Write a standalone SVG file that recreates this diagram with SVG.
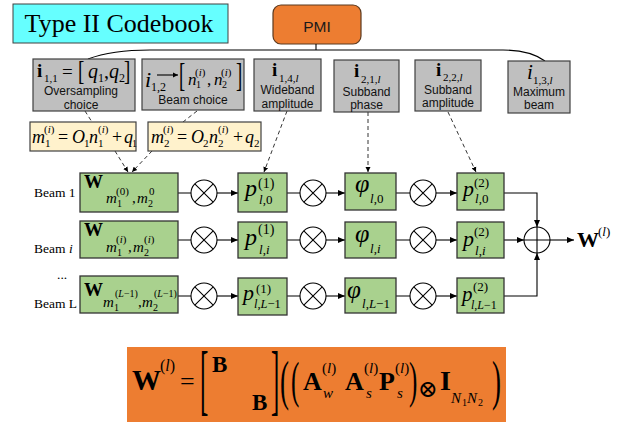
<svg xmlns="http://www.w3.org/2000/svg" width="629" height="424" viewBox="0 0 629 424">
<defs>
<style>
.m{font-family:"Liberation Serif","DejaVu Serif",serif;fill:#000}
.it{font-style:italic}
.bd{font-weight:bold}
.sn{font-family:"Liberation Sans","Open Sans",sans-serif;font-size:12px;fill:#111;text-anchor:middle}
.gray{fill:#BFBFBF;stroke:#404040;stroke-width:1.2}
.yel{fill:#FFF2CC;stroke:#404040;stroke-width:1.2}
.grn{fill:#A9D18E;stroke:#333;stroke-width:1.3}
.ln{fill:none;stroke:#000;stroke-width:1.1}
.dash{fill:none;stroke:#000;stroke-width:0.8;stroke-dasharray:4 3}
.op{fill:#fff;stroke:#000;stroke-width:1.1}
</style>
<marker id="ah" markerWidth="8" markerHeight="8" refX="7" refY="4" orient="auto" markerUnits="userSpaceOnUse"><path d="M0,1 L7,4 L0,7 z" fill="#000"/></marker>
<marker id="ahs" markerWidth="6" markerHeight="6" refX="5" refY="3" orient="auto" markerUnits="userSpaceOnUse"><path d="M0,0.5 L5,3 L0,5.5 z" fill="#000"/></marker>
</defs>
<rect width="629" height="424" fill="#fff"/>

<g id="title">
<rect x="13" y="4" width="215" height="39" fill="#66FFFF" stroke="#404040" stroke-width="1"/>
<text class="m" x="119" y="32" font-size="26" text-anchor="middle">Type II Codebook</text>
</g>

<g id="pmi">
<rect x="273" y="5" width="88" height="39" rx="8" fill="#ED7D31" stroke="#5a3a20" stroke-width="1.2"/>
<text x="317" y="32" font-size="15.5" text-anchor="middle" font-family="Liberation Sans, Open Sans, sans-serif" fill="#1a1a1a">PMI</text>
</g>

<g id="connectors">
<path class="ln" d="M316,44 V50"/>
<path class="ln" d="M88,59 Q112,50 150,50 H503 Q530,50 545,61"/>
<path class="dash" d="M85,111 L92,122"/>
<path class="dash" d="M115,151 L128,172" marker-end="url(#ahs)"/>
<path class="dash" d="M197,111 L183,122"/>
<path class="dash" d="M152,151 L132,172" marker-end="url(#ahs)"/>
<path class="dash" d="M287,111 L264,172" marker-end="url(#ahs)"/>
<path class="dash" d="M368,112 L368,172" marker-end="url(#ahs)"/>
<path class="dash" d="M448,112 L476,172" marker-end="url(#ahs)"/>
<path class="ln" d="M178,193 H191 M287,193 H300 M396,193 H410"/>
<path class="ln" d="M217,193 H238" marker-end="url(#ah)"/>
<path class="ln" d="M326,193 H345" marker-end="url(#ah)"/>
<path class="ln" d="M436,193 H457" marker-end="url(#ah)"/>
<path class="ln" d="M504,193 H537 V227" marker-end="url(#ah)"/>
<path class="ln" d="M178,240 H191 M287,240 H300 M396,240 H410"/>
<path class="ln" d="M217,240 H238" marker-end="url(#ah)"/>
<path class="ln" d="M326,240 H345" marker-end="url(#ah)"/>
<path class="ln" d="M436,240 H457" marker-end="url(#ah)"/>
<path class="ln" d="M504,240 H524" marker-end="url(#ah)"/>
<path class="ln" d="M178,296 H191 M287,296 H300 M396,296 H410"/>
<path class="ln" d="M217,296 H238" marker-end="url(#ah)"/>
<path class="ln" d="M326,296 H345" marker-end="url(#ah)"/>
<path class="ln" d="M436,296 H457" marker-end="url(#ah)"/>
<path class="ln" d="M504,296 H537 V253" marker-end="url(#ah)"/>
<path class="ln" d="M550,240 H574" marker-end="url(#ah)"/>
</g>

<g id="i11">
<rect class="gray" x="33" y="59" width="102" height="52"/>
<text class="m bd" x="37" y="77" font-size="19">i</text>
<text class="m" x="44" y="82" font-size="11">1,1</text>
<text class="m" x="62" y="78" font-size="19">=</text>
<text class="m" transform="translate(78,80) scale(0.7,1)" font-size="27">[</text>
<text class="m it" x="88" y="78" font-size="20">q</text>
<text class="m" x="98" y="82" font-size="12">1</text>
<text class="m" x="104" y="78" font-size="20">,</text>
<text class="m it" x="109" y="78" font-size="20">q</text>
<text class="m" x="119" y="82" font-size="12">2</text>
<text class="m" transform="translate(124,80) scale(0.7,1)" font-size="27">]</text>
<text class="sn" x="81" y="95">Oversampling</text>
<text class="sn" x="81" y="108.5">choice</text>
</g>

<g id="i12">
<rect class="gray" x="142" y="59" width="102" height="51"/>
<text class="m it" x="145" y="87" font-size="22">i</text>
<text class="m" x="151" y="91" font-size="12">1,2</text>
<path class="ln" d="M157,75 H178" marker-end="url(#ahs)"/>
<text class="m" transform="translate(179,86) scale(0.55,1)" font-size="34">[</text>
<text class="m it" x="188" y="85" font-size="17">n</text>
<text class="m" x="196" y="88" font-size="10">1</text>
<text class="m" x="195" y="76" font-size="11">(<tspan class="it">i</tspan>)</text>
<text class="m" x="207" y="85" font-size="17">,</text>
<text class="m it" x="214" y="85" font-size="17">n</text>
<text class="m" x="222" y="88" font-size="10">2</text>
<text class="m" x="221" y="76" font-size="11">(<tspan class="it">i</tspan>)</text>
<text class="m" transform="translate(236,86) scale(0.55,1)" font-size="34">]</text>
<text class="sn" x="193" y="104">Beam choice</text>
</g>

<g id="i14">
<rect class="gray" x="254" y="59" width="67" height="52"/>
<text class="m bd" x="272" y="76" font-size="19">i</text>
<text class="m" x="279" y="82" font-size="11">1,4,<tspan class="it">l</tspan></text>
<text class="sn" x="287.5" y="94">Wideband</text>
<text class="sn" x="287.5" y="108">amplitude</text>
</g>

<g id="i21">
<rect class="gray" x="334" y="60" width="65" height="52"/>
<text class="m bd" x="354" y="77" font-size="19">i</text>
<text class="m" x="361" y="83" font-size="11">2,1,<tspan class="it">l</tspan></text>
<text class="sn" x="366.5" y="96">Subband</text>
<text class="sn" x="366.5" y="109">phase</text>
</g>

<g id="i22">
<rect class="gray" x="415" y="60" width="66" height="51"/>
<text class="m bd" x="436" y="76" font-size="19">i</text>
<text class="m" x="443" y="81" font-size="11">2,2,<tspan class="it">l</tspan></text>
<text class="sn" x="448" y="94">Subband</text>
<text class="sn" x="448" y="107">amplitude</text>
</g>

<g id="i13">
<rect class="gray" x="508" y="61" width="62" height="52"/>
<text class="m it" x="527" y="79" font-size="21">i</text>
<text class="m" x="533" y="84" font-size="11">1,3,<tspan class="it">l</tspan></text>
<text class="sn" x="539" y="96">Maximum</text>
<text class="sn" x="539" y="109">beam</text>
</g>

<g id="m1">
<rect class="yel" x="30" y="122" width="106" height="29"/>
<text class="m it" x="32" y="143" font-size="18">m</text>
<text class="m" x="45" y="147" font-size="11">1</text>
<text class="m" x="44" y="133" font-size="11">(<tspan class="it">i</tspan>)</text>
<text class="m" x="58" y="143" font-size="18">=</text>
<text class="m it" x="72" y="143" font-size="18">O</text>
<text class="m" x="84" y="147" font-size="11">1</text>
<text class="m it" x="89" y="143" font-size="18">n</text>
<text class="m" x="98" y="147" font-size="11">1</text>
<text class="m" x="98" y="133" font-size="11">(<tspan class="it">i</tspan>)</text>
<text class="m" x="112" y="143" font-size="18">+</text>
<text class="m it" x="124" y="143" font-size="18">q</text>
<text class="m" x="132" y="147" font-size="10">1</text>
</g>

<g id="m2">
<rect class="yel" x="148" y="122" width="113" height="29"/>
<text class="m it" x="151" y="143" font-size="18">m</text>
<text class="m" x="164" y="147" font-size="11">2</text>
<text class="m" x="163" y="133" font-size="11">(<tspan class="it">i</tspan>)</text>
<text class="m" x="177" y="143" font-size="18">=</text>
<text class="m it" x="191" y="143" font-size="18">O</text>
<text class="m" x="203" y="147" font-size="11">2</text>
<text class="m it" x="209" y="143" font-size="18">n</text>
<text class="m" x="218" y="147" font-size="11">2</text>
<text class="m" x="218" y="133" font-size="11">(<tspan class="it">i</tspan>)</text>
<text class="m" x="233" y="143" font-size="18">+</text>
<text class="m it" x="245" y="143" font-size="18">q</text>
<text class="m" x="254" y="147" font-size="11">2</text>
</g>

<g id="labels">
<text class="m" x="34" y="197" font-size="13.5">Beam 1</text>
<text class="m" x="34" y="253" font-size="13.5">Beam <tspan class="it">i</tspan></text>
<text class="m" x="57" y="279" font-size="13.5">...</text>
<text class="m" x="34" y="308" font-size="13.5">Beam L</text>
</g>

<g id="w0">
<rect class="grn" x="80" y="173" width="98" height="39"/>
<text class="m bd" x="84" y="188" font-size="19">W</text>
<text class="m it" x="106" y="203" font-size="15">m</text>
<text class="m" x="117" y="207" font-size="10">1</text>
<text class="m" x="116" y="195" font-size="11">(0)</text>
<text class="m" x="132" y="203" font-size="15">,</text>
<text class="m it" x="137" y="203" font-size="15">m</text>
<text class="m" x="148" y="207" font-size="10">2</text>
<text class="m" x="149" y="195" font-size="11">0</text>
</g>
<g id="wi">
<rect class="grn" x="80" y="221" width="98" height="37"/>
<text class="m bd" x="84" y="236" font-size="19">W</text>
<text class="m it" x="106" y="252" font-size="15">m</text>
<text class="m" x="117" y="256" font-size="10">1</text>
<text class="m" x="116" y="243" font-size="11">(<tspan class="it">i</tspan>)</text>
<text class="m" x="128" y="252" font-size="15">,</text>
<text class="m it" x="133" y="252" font-size="15">m</text>
<text class="m" x="144" y="256" font-size="10">2</text>
<text class="m" x="144" y="243" font-size="11">(<tspan class="it">i</tspan>)</text>
</g>
<g id="wL">
<rect class="grn" x="80" y="276" width="98" height="37"/>
<text class="m bd" x="84" y="296" font-size="19">W</text>
<text class="m it" x="103" y="307" font-size="15">m</text>
<text class="m" x="114" y="311" font-size="10">1</text>
<text class="m" x="115" y="297" font-size="10">(<tspan class="it">L</tspan>−1)</text>
<text class="m" x="138" y="307" font-size="15">,</text>
<text class="m it" x="142" y="307" font-size="15">m</text>
<text class="m" x="153" y="311" font-size="10">2</text>
<text class="m" x="154" y="297" font-size="10">(<tspan class="it">L</tspan>−1)</text>
</g>

<g id="mul">
<g id="x10"><circle class="op" cx="204" cy="193" r="13"/><path class="ln" d="M194.8,183.8 L213.2,202.2 M213.2,183.8 L194.8,202.2"/></g>
<g id="x20"><circle class="op" cx="313" cy="193" r="13"/><path class="ln" d="M303.8,183.8 L322.2,202.2 M322.2,183.8 L303.8,202.2"/></g>
<g id="x30"><circle class="op" cx="423" cy="193" r="13"/><path class="ln" d="M413.8,183.8 L432.2,202.2 M432.2,183.8 L413.8,202.2"/></g>
<g id="x1i"><circle class="op" cx="204" cy="240" r="13"/><path class="ln" d="M194.8,230.8 L213.2,249.2 M213.2,230.8 L194.8,249.2"/></g>
<g id="x2i"><circle class="op" cx="313" cy="240" r="13"/><path class="ln" d="M303.8,230.8 L322.2,249.2 M322.2,230.8 L303.8,249.2"/></g>
<g id="x3i"><circle class="op" cx="423" cy="240" r="13"/><path class="ln" d="M413.8,230.8 L432.2,249.2 M432.2,230.8 L413.8,249.2"/></g>
<g id="x1L"><circle class="op" cx="204" cy="296" r="13"/><path class="ln" d="M194.8,286.8 L213.2,305.2 M213.2,286.8 L194.8,305.2"/></g>
<g id="x2L"><circle class="op" cx="313" cy="296" r="13"/><path class="ln" d="M303.8,286.8 L322.2,305.2 M322.2,286.8 L303.8,305.2"/></g>
<g id="x3L"><circle class="op" cx="423" cy="296" r="13"/><path class="ln" d="M413.8,286.8 L432.2,305.2 M432.2,286.8 L413.8,305.2"/></g>
</g>

<g id="p10">
<rect class="grn" x="238" y="173" width="49" height="39"/>
<text class="m it" x="245" y="196" font-size="24">p</text>
<text class="m" x="258" y="188" font-size="14">(1)</text>
<text class="m" x="259" y="204" font-size="13"><tspan class="it">l</tspan>,0</text>
</g>
<g id="p1i">
<rect class="grn" x="238" y="222" width="49" height="36"/>
<text class="m it" x="245" y="245" font-size="24">p</text>
<text class="m" x="258" y="234" font-size="14">(1)</text>
<text class="m" x="259" y="254" font-size="13"><tspan class="it">l</tspan>,<tspan class="it">i</tspan></text>
</g>
<g id="p1L">
<rect class="grn" x="238" y="278" width="49" height="37"/>
<text class="m it" x="243" y="300" font-size="22">p</text>
<text class="m" x="256" y="293" font-size="13">(1)</text>
<text class="m" x="254" y="308" font-size="12.5"><tspan class="it">l</tspan>,<tspan class="it">L</tspan>−1</text>
</g>

<g id="ph0">
<rect class="grn" x="345" y="173" width="51" height="37"/>
<text class="m it" x="355" y="192" font-size="26">φ</text>
<text class="m" x="370" y="203" font-size="13"><tspan class="it">l</tspan>,0</text>
</g>
<g id="phi">
<rect class="grn" x="345" y="222" width="51" height="36"/>
<text class="m it" x="355" y="242" font-size="26">φ</text>
<text class="m" x="370" y="253" font-size="13"><tspan class="it">l</tspan>,<tspan class="it">i</tspan></text>
</g>
<g id="phL">
<rect class="grn" x="345" y="278" width="51" height="35"/>
<text class="m it" x="347" y="298" font-size="25">φ</text>
<text class="m" x="362" y="308" font-size="13"><tspan class="it">l</tspan>,<tspan class="it">L</tspan>−1</text>
</g>

<g id="p20">
<rect class="grn" x="457" y="173" width="47" height="37"/>
<text class="m it" x="463" y="196" font-size="22">p</text>
<text class="m" x="474" y="187" font-size="13">(2)</text>
<text class="m" x="475" y="203" font-size="13"><tspan class="it">l</tspan>,0</text>
</g>
<g id="p2i">
<rect class="grn" x="457" y="222" width="47" height="36"/>
<text class="m it" x="463" y="246" font-size="22">p</text>
<text class="m" x="474" y="236" font-size="13">(2)</text>
<text class="m" x="475" y="255" font-size="13"><tspan class="it">l</tspan>,<tspan class="it">i</tspan></text>
</g>
<g id="p2L">
<rect class="grn" x="457" y="278" width="47" height="35"/>
<text class="m it" x="462" y="301" font-size="21">p</text>
<text class="m" x="473" y="291" font-size="13">(2)</text>
<text class="m" x="471" y="309" font-size="12"><tspan class="it">l</tspan>,<tspan class="it">L</tspan>−1</text>
</g>

<g id="sum">
<circle class="op" cx="537" cy="240" r="13"/>
<path class="ln" d="M524,240 H550 M537,227 V253"/>
</g>

<g id="out">
<text class="m bd" x="577" y="247" font-size="22">W</text>
<text class="m" x="598" y="236" font-size="13">(<tspan class="it">l</tspan>)</text>
</g>

<g id="formula">
<rect x="127" y="347" width="379" height="75" fill="#ED7D31"/>
<text class="m bd" x="132" y="390" font-size="29">W</text>
<text class="m" x="160" y="371" font-size="16">(<tspan class="it">l</tspan>)</text>
<text class="m" x="180" y="390" font-size="26">=</text>
<text class="m" transform="translate(200,406) scale(0.32,1)" font-size="78">[</text>
<text class="m bd" x="212" y="372" font-size="23">B</text>
<text class="m bd" x="252" y="410" font-size="23">B</text>
<text class="m" transform="translate(271,406) scale(0.32,1)" font-size="78">]</text>
<text class="m" transform="translate(280,399) scale(0.5,1)" font-size="54">(</text>
<text class="m" transform="translate(291,397) scale(0.5,1)" font-size="50">(</text>
<text class="m bd" x="303" y="390" font-size="26">A</text>
<text class="m" x="322" y="373" font-size="15">(<tspan class="it">l</tspan>)</text>
<text class="m it" x="323" y="398" font-size="15">w</text>
<text class="m bd" x="345" y="390" font-size="26">A</text>
<text class="m" x="364" y="373" font-size="15">(<tspan class="it">l</tspan>)</text>
<text class="m it" x="366" y="398" font-size="15">s</text>
<text class="m bd" x="379" y="390" font-size="26">P</text>
<text class="m" x="395" y="373" font-size="15">(<tspan class="it">l</tspan>)</text>
<text class="m it" x="397" y="398" font-size="15">s</text>
<text class="m" transform="translate(409,397) scale(0.5,1)" font-size="50">)</text>
<text x="418" y="397" font-size="24" font-family="DejaVu Serif, serif">⊗</text>
<text class="m bd" x="440" y="390" font-size="28">I</text>
<text class="m it" x="451" y="403" font-size="15">N</text>
<text class="m" x="462" y="406" font-size="10">1</text>
<text class="m it" x="467" y="403" font-size="15">N</text>
<text class="m" x="478" y="406" font-size="10">2</text>
<text class="m" transform="translate(492,399) scale(0.5,1)" font-size="54">)</text>
</g>
</svg>
